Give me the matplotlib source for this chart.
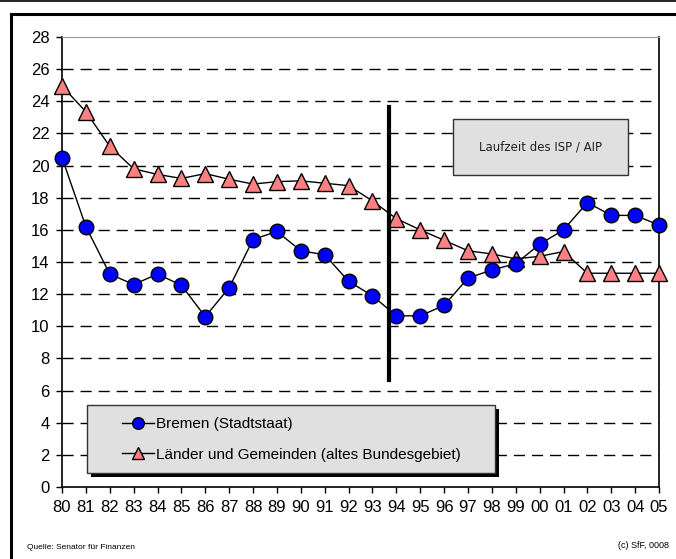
import matplotlib.pyplot as plt
from matplotlib.patches import Rectangle
from matplotlib.lines import Line2D

jahre = ['80', '81', '82', '83', '84', '85', '86', '87', '88', '89', '90', '91', '92',
         '93', '94', '95', '96', '97', '98', '99', '00', '01', '02', '03', '04', '05']
bremen = [20.5, 16.2, 13.25, 12.6, 13.25, 12.55, 10.6, 12.4, 15.4, 15.9, 14.7, 14.45, 12.8,
          11.9, 10.65, 10.65, 11.3, 13.0, 13.5, 13.9, 15.1, 16.0, 17.7, 16.9, 16.9, 16.3]
laender = [24.95, 23.35, 21.2, 19.8, 19.45, 19.2, 19.5, 19.15, 18.85, 19.0, 19.05, 18.9, 18.75,
           17.8, 16.7, 16.0, 15.35, 14.7, 14.5, 14.2, 14.35, 14.65, 13.3, 13.3, 13.3, 13.3]
yticks = list(range(0, 30, 2))

plt.rcParams['font.family'] = ['Liberation Sans', 'DejaVu Sans']

fig = plt.figure(figsize=(6.76, 5.59), dpi=100)
ax = fig.add_axes([0.0917, 0.1288, 0.8832, 0.805])

x = list(range(len(jahre)))
ax.plot(x, bremen, color='black', lw=1, marker='o', ms=10.5, mfc='#0000ff', mec='black',
        mew=1, label='Bremen (Stadtstaat)', zorder=4, clip_on=False)
ax.plot(x, laender, color='black', lw=1, marker='^', ms=11, mfc='#ff8080', mec='black',
        mew=1, label='Länder und Gemeinden (altes Bundesgebiet)', zorder=3, clip_on=False)

# Beginn ISP / AIP
ax.plot([13.7, 13.7], [6.66, 23.65], color='black', lw=3, zorder=5)

ax.set_xlim(0, len(jahre) - 1)
ax.set_ylim(0, 28)
ax.set_xticks(x)
ax.set_xticklabels(jahre)
ax.set_yticks(yticks)
ax.tick_params(labelsize=12, length=4, width=1, direction='out')
ax.tick_params(axis='x', pad=5)
ax.tick_params(axis='y', pad=5)
for y in yticks[1:-1]:
    ax.axhline(y, color='black', lw=1, ls=(0, (8, 5)), zorder=1)
ax.spines['top'].set_color('#999999')
for s in ['left', 'right', 'bottom']:
    ax.spines[s].set_linewidth(1.2)

# Textbox
ax.add_patch(Rectangle((0.655, 0.693), 0.293, 0.125, transform=ax.transAxes,
                       facecolor='#e0e0e0', edgecolor='#333333', lw=1, zorder=6))
ax.text(0.8015, 0.7555, 'Laufzeit des ISP / AIP', transform=ax.transAxes, ha='center',
        va='center', fontsize=8.5, family='DejaVu Sans', color='#222222', zorder=7)

# Legende mit Schatten
ax.add_patch(Rectangle((0.049, 0.022), 0.683, 0.151, transform=ax.transAxes,
                       facecolor='black', edgecolor='none', zorder=6))
ax.add_patch(Rectangle((0.042, 0.031), 0.683, 0.151, transform=ax.transAxes,
                       facecolor='#e0e0e0', edgecolor='#333333', lw=1, zorder=7))
leg = ax.legend(loc='center left', bbox_to_anchor=(0.1, 0.106), frameon=False,
                fontsize=11, handlelength=2.1, handletextpad=0.15, labelspacing=1.1,
                borderpad=0, borderaxespad=0, markerscale=0.8)
leg.set_zorder(8)

# Rahmen
fig.add_artist(Line2D([0, 1], [0.999, 0.999], color='black', lw=1.2))
fig.add_artist(Line2D([0.017, 1], [0.9755, 0.9755], color='black', lw=2.2))
fig.add_artist(Line2D([0.017, 0.017], [0, 0.9755], color='black', lw=2.2))

fig.text(0.04, 0.02, 'Quelle: Senator für Finanzen', fontsize=6, va='center')
fig.text(0.99, 0.025, '(c) SfF, 0008', fontsize=6.5, ha='right', va='center')

fig.savefig('out.png', dpi=100)
